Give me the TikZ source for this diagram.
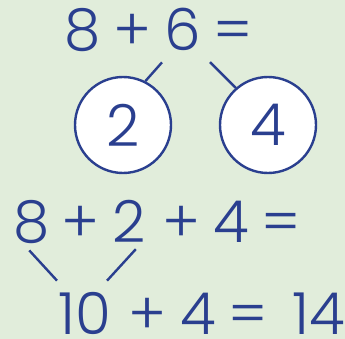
\documentclass[tikz,border=0pt]{standalone}
\usepackage{fontspec}
\setmainfont{Poppins Light}
\usepackage{xcolor}
\usepackage{tikz}
\definecolor{numblue}{HTML}{2A3F8F}
\definecolor{bggreen}{HTML}{E1EDDB}

\begin{document}
\begin{tikzpicture}[x=1pt, y=-1pt,
    num/.style={font=\fontsize{58}{58}\selectfont, text=numblue, inner sep=0pt, anchor=base west},
    bubble/.style={circle, draw=numblue, line width=2.4pt, fill=white, minimum size=96pt, inner sep=0pt,
      font=\fontsize{58}{58}\selectfont, text=numblue},
    link/.style={draw=numblue, line width=2.4pt}]
  \fill[bggreen] (0,0) rectangle (345,339);
  % 8 + 6 =
  \node[num] (eight) at (64,51) {8};
  \node[num] (plus) at (113,51) {+};
  \node[num] (six) at (164,51) {6};
  \node[num] (eq) at (213,51) {=};
  % split of 6
  \node[bubble] (ctwo) at (123,125) {2};
  \node[bubble] (cfour) at (268,125) {4};
  \draw[link] ([shift={(-2,11)}]six.south west) -- (ctwo.63);
  \draw[link] ([shift={(-3,11)}]eq.south west) -- (cfour.131);
  % 8 + 2 + 4 =
  \node[num] (eightb) at (13,242) {8};
  \node[num] (plusb) at (61,242) {+};
  \node[num] (twob) at (112,242) {2};
  \node[num] (plusc) at (162,242) {+};
  \node[num] (fourb) at (213,242) {4};
  \node[num] (eqb) at (261,242) {=};
  % 10 + 4 = 14
  \node[num] (ten) at (58,334) {10};
  \node[num] (plusd) at (128,334) {+};
  \node[num] (fourc) at (180,334) {4};
  \node[num] (eqc) at (228,334) {=};
  \node[num] (total) at (292,334) {14};
  \draw[link] ([shift={(-2,7)}]eightb.south) -- ([shift={(-1,-11)}]ten.north west);
  \draw[link] ([shift={(7,7)}]twob.south) -- ([shift={(-4,-11)}]ten.north east);
\end{tikzpicture}
\end{document}
